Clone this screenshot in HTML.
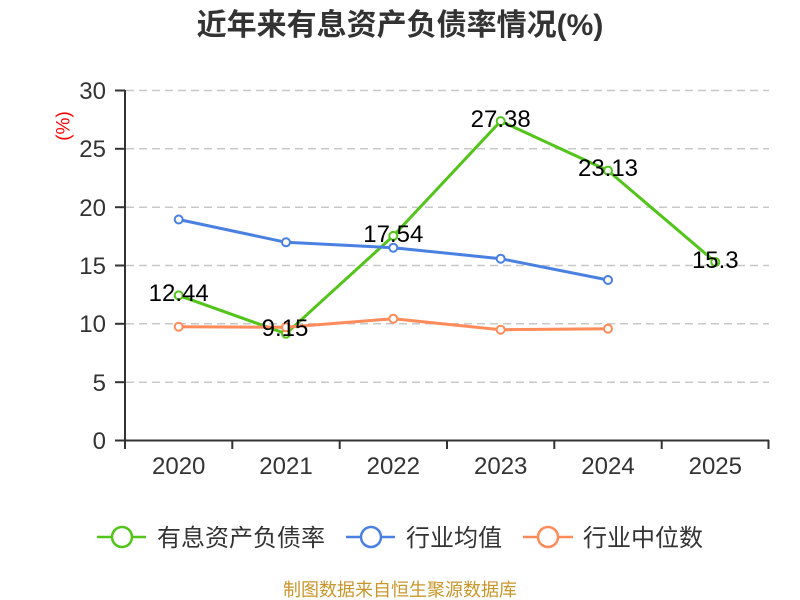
<!DOCTYPE html>
<html>
<head>
<meta charset="utf-8">
<style>
html,body{margin:0;padding:0;background:#fff;}
svg{display:block;}
text{font-family:"Liberation Sans","Noto Sans CJK SC",sans-serif;}
</style>
</head>
<body>
<svg width="800" height="600" viewBox="0 0 800 600" xmlns="http://www.w3.org/2000/svg">
<rect width="800" height="600" fill="#fff"/>
<!-- title -->
<text x="400" y="35" font-size="30" font-weight="bold" fill="#333" text-anchor="middle">近年来有息资产负债率情况(%)</text>
<!-- y unit -->
<text transform="translate(69.5,126) rotate(-90)" text-anchor="middle" font-size="19" fill="#f00">(%)</text>
<!-- grid -->
<g stroke="#c8c8c8" stroke-width="1.5" stroke-dasharray="8,5">
<line x1="126" y1="90.5" x2="769" y2="90.5"/>
<line x1="126" y1="148.8" x2="769" y2="148.8"/>
<line x1="126" y1="207.2" x2="769" y2="207.2"/>
<line x1="126" y1="265.5" x2="769" y2="265.5"/>
<line x1="126" y1="323.8" x2="769" y2="323.8"/>
<line x1="126" y1="382.2" x2="769" y2="382.2"/>
</g>
<!-- axes -->
<g stroke="#333" stroke-width="2">
<line x1="125" y1="90" x2="125" y2="441"/>
<line x1="124" y1="440.5" x2="769" y2="440.5"/>
<line x1="115" y1="90.5" x2="125" y2="90.5"/>
<line x1="115" y1="148.8" x2="125" y2="148.8"/>
<line x1="115" y1="207.2" x2="125" y2="207.2"/>
<line x1="115" y1="265.5" x2="125" y2="265.5"/>
<line x1="115" y1="323.8" x2="125" y2="323.8"/>
<line x1="115" y1="382.2" x2="125" y2="382.2"/>
<line x1="115" y1="440.5" x2="125" y2="440.5"/>
<line x1="125" y1="440" x2="125" y2="449"/>
<line x1="232.3" y1="440" x2="232.3" y2="449"/>
<line x1="339.7" y1="440" x2="339.7" y2="449"/>
<line x1="447" y1="440" x2="447" y2="449"/>
<line x1="554.3" y1="440" x2="554.3" y2="449"/>
<line x1="661.7" y1="440" x2="661.7" y2="449"/>
<line x1="768.5" y1="440" x2="768.5" y2="449"/>
</g>
<!-- y tick labels -->
<g font-size="24" fill="#333" text-anchor="end">
<text x="106" y="99">30</text>
<text x="106" y="157">25</text>
<text x="106" y="216">20</text>
<text x="106" y="274">15</text>
<text x="106" y="332">10</text>
<text x="106" y="391">5</text>
<text x="106" y="449">0</text>
</g>
<!-- x labels -->
<g font-size="24" fill="#333" text-anchor="middle">
<text x="178.7" y="474">2020</text>
<text x="286" y="474">2021</text>
<text x="393.3" y="474">2022</text>
<text x="500.7" y="474">2023</text>
<text x="608" y="474">2024</text>
<text x="715.3" y="474">2025</text>
</g>
<!-- green series -->
<polyline fill="none" stroke="#52c41a" stroke-width="3" stroke-linejoin="round" points="178.7,295.4 286,333.7 393.3,235.9 500.7,121.1 608,170.6 715.3,262"/>
<g fill="#fff" stroke="#52c41a" stroke-width="2">
<circle cx="178.7" cy="295.4" r="4"/><circle cx="286" cy="333.7" r="4"/><circle cx="393.3" cy="235.9" r="4"/><circle cx="500.7" cy="121.1" r="4"/><circle cx="608" cy="170.6" r="4"/><circle cx="715.3" cy="262" r="4"/>
</g>
<!-- blue series -->
<polyline fill="none" stroke="#4a80e2" stroke-width="3" stroke-linejoin="round" points="178.7,219.5 286,242.3 393.3,247.7 500.7,258.7 608,280"/>
<g fill="#fff" stroke="#4a80e2" stroke-width="2">
<circle cx="178.7" cy="219.5" r="4"/><circle cx="286" cy="242.3" r="4"/><circle cx="393.3" cy="247.7" r="4"/><circle cx="500.7" cy="258.7" r="4"/><circle cx="608" cy="280" r="4"/>
</g>
<!-- orange series -->
<polyline fill="none" stroke="#ff8a5a" stroke-width="3" stroke-linejoin="round" points="178.7,326.7 286,327.3 393.3,318.7 500.7,329.7 608,328.7"/>
<g fill="#fff" stroke="#ff8a5a" stroke-width="2">
<circle cx="178.7" cy="326.7" r="4"/><circle cx="286" cy="327.3" r="4"/><circle cx="393.3" cy="318.7" r="4"/><circle cx="500.7" cy="329.7" r="4"/><circle cx="608" cy="328.7" r="4"/>
</g>
<!-- data labels -->
<g font-size="24" fill="#000" text-anchor="middle">
<text x="178.7" y="301">12.44</text>
<text x="285" y="336">9.15</text>
<text x="393.3" y="242">17.54</text>
<text x="500.7" y="127">27.38</text>
<text x="608" y="176">23.13</text>
<text x="715.3" y="268">15.3</text>
</g>
<!-- legend -->
<g stroke-width="2.5">
<line x1="97" y1="537" x2="146" y2="537" stroke="#52c41a"/>
<circle cx="122" cy="537" r="10" fill="#fff" stroke="#52c41a"/>
<line x1="346" y1="537" x2="395" y2="537" stroke="#4a80e2"/>
<circle cx="371" cy="537" r="10" fill="#fff" stroke="#4a80e2"/>
<line x1="523" y1="537" x2="573" y2="537" stroke="#ff8a5a"/>
<circle cx="548" cy="537" r="10" fill="#fff" stroke="#ff8a5a"/>
</g>
<g font-size="24" fill="#333">
<text x="157" y="546">有息资产负债率</text>
<text x="406" y="546">行业均值</text>
<text x="583" y="546">行业中位数</text>
</g>
<!-- footer -->
<text x="400" y="596" font-size="18" fill="#c9962b" text-anchor="middle">制图数据来自恒生聚源数据库</text>
</svg>
</body>
</html>
